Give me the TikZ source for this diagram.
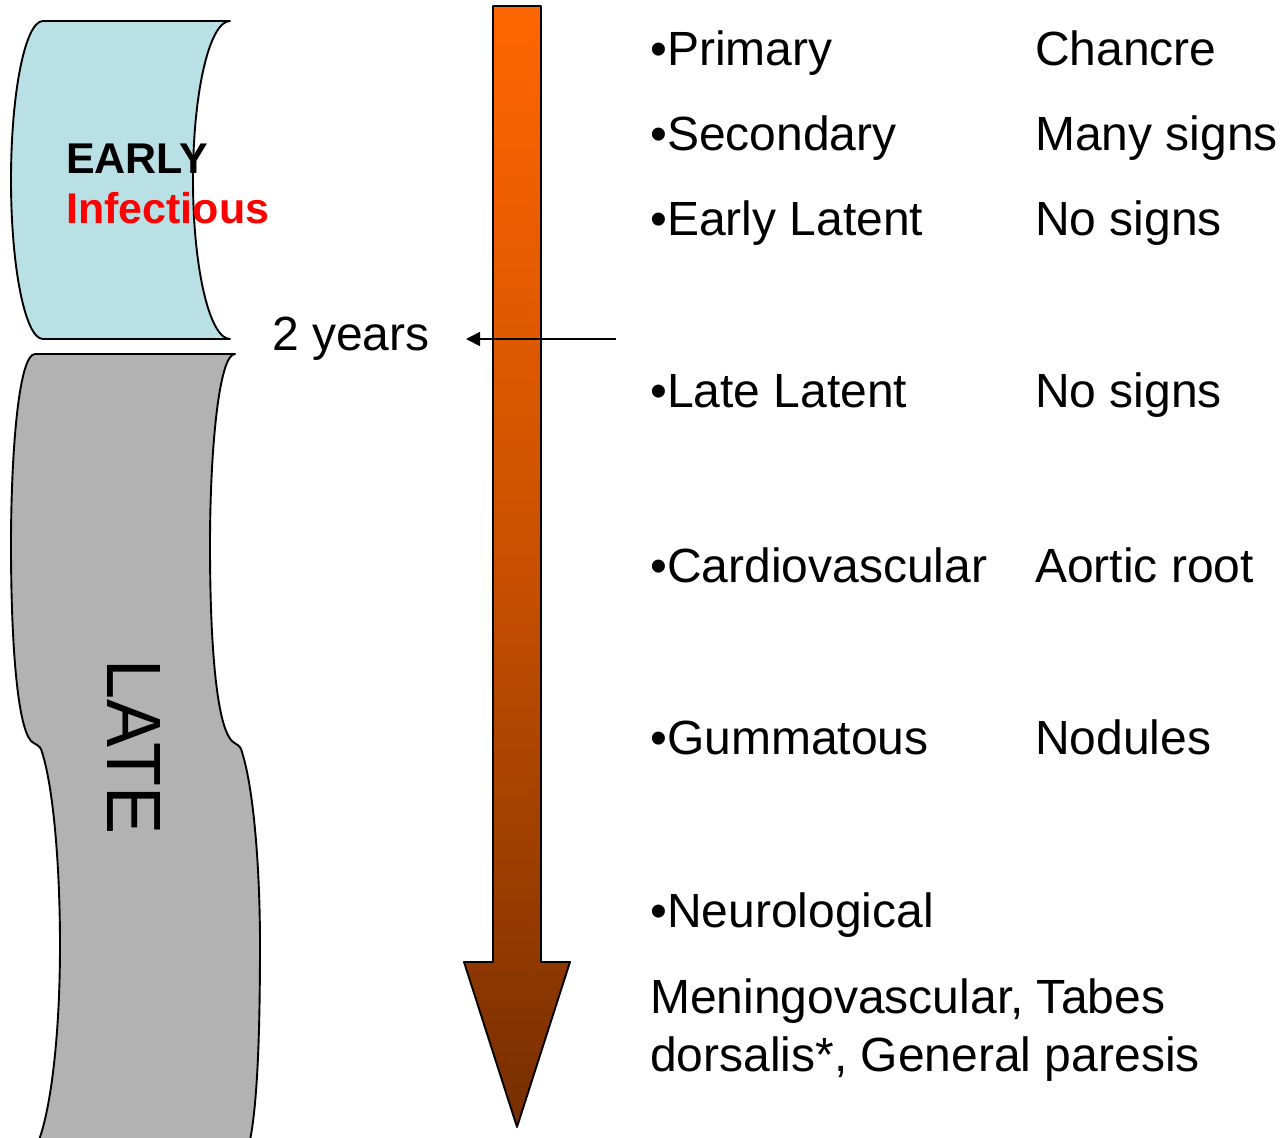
\documentclass[tikz,border=0pt]{standalone}
\usepackage{fontspec}
\setmainfont{Liberation Sans}
\usetikzlibrary{arrows.meta}
\definecolor{earlyblue}{RGB}{185,224,228}
\definecolor{lategray}{RGB}{178,178,178}
\definecolor{arrtop}{RGB}{255,102,0}
\definecolor{arrmid}{RGB}{200,80,0}
\definecolor{arrbot}{RGB}{118,46,0}
\definecolor{infred}{RGB}{255,0,0}
\begin{document}
\begin{tikzpicture}[x=1pt,y=-1pt,
  outline/.style={draw=black,line width=1.9pt,line join=round},
  big/.style={font=\fontsize{48}{57.6}\selectfont, anchor=base west, inner sep=0pt},
  lbl/.style={font=\fontsize{43}{50}\selectfont\bfseries, anchor=base west, inner sep=0pt}]
\useasboundingbox (0,0) rectangle (1288,1138);
\clip (0,0) rectangle (1288,1138);
% EARLY band
\path[outline, fill=earlyblue] (43,21) -- (230,21)
  .. controls (209.6,21) and (193,92) .. (193,180)
  .. controls (193,268) and (209.6,339) .. (230,339)
  -- (43,339)
  .. controls (25.3,339) and (11,268) .. (11,180)
  .. controls (11,92) and (25.3,21) .. (43,21) -- cycle;
% LATE band
\path[outline, fill=lategray] (35,354) -- (235,354)
  .. controls (219,354) and (210,450) .. (210,545)
  .. controls (210,640) and (216,725) .. (232,741)
  .. controls (236,745) and (240,744) .. (242,752)
  .. controls (254,790) and (260,870) .. (260,945)
  .. controls (260,1040) and (257,1110) .. (249,1145)
  -- (37,1145)
  .. controls (50,1115) and (60,1040) .. (60,945)
  .. controls (60,870) and (54,790) .. (42,752)
  .. controls (40,744) and (35,745) .. (31,741)
  .. controls (17,725) and (11,640) .. (11,545)
  .. controls (11,450) and (19,354) .. (35,354) -- cycle;
\node[lbl] (early) at (66,173) {EARLY};
\node[lbl, text=infred] (infect) at (66,223) {Infectious};
\node[rotate=-90, inner sep=0pt, font=\fontsize{72}{80}\selectfont] (late) at (134,747) {\scalebox{1}[1.07]{LATE}};
% big time arrow
\path[outline, top color=arrtop, bottom color=arrbot, middle color=arrmid]
  (493,6) -- (541,6) -- (541,962) -- (570,962) -- (517,1127) -- (464,962) -- (493,962) -- cycle;
% 2 years marker
\coordinate (ys) at (616,339);
\coordinate (ye) at (466,339);
\draw[line width=1.6pt, -{Triangle[length=14pt,width=14pt]}] (ys) -- (ye);
\node[big] (years) at (272,350) {2 years};
% stages
\node[big] (primary) at (650,65) {•Primary};
\node[big] (chancre) at (1035,65) {Chancre};
\node[big] (secondary) at (650,150) {•Secondary};
\node[big] (many) at (1035,150) {Many signs};
\node[big] (earlylat) at (650,235) {•Early Latent};
\node[big] (nosignsa) at (1035,235) {No signs};
\node[big] (latelat) at (650,407) {•Late Latent};
\node[big] (nosignsb) at (1035,407) {No signs};
\node[big] (cardio) at (650,582) {•Cardiovascular};
\node[big] (aortic) at (1035,582) {Aortic root};
\node[big] (gumma) at (650,754) {•Gummatous};
\node[big] (nodules) at (1035,754) {Nodules};
\node[big] (neuro) at (650,927) {•Neurological};
\node[big] (mening) at (650,1013) {Meningovascular, Tabes};
\node[big] (dorsalis) at (650,1071) {dorsalis*, General paresis};
\end{tikzpicture}
\end{document}
